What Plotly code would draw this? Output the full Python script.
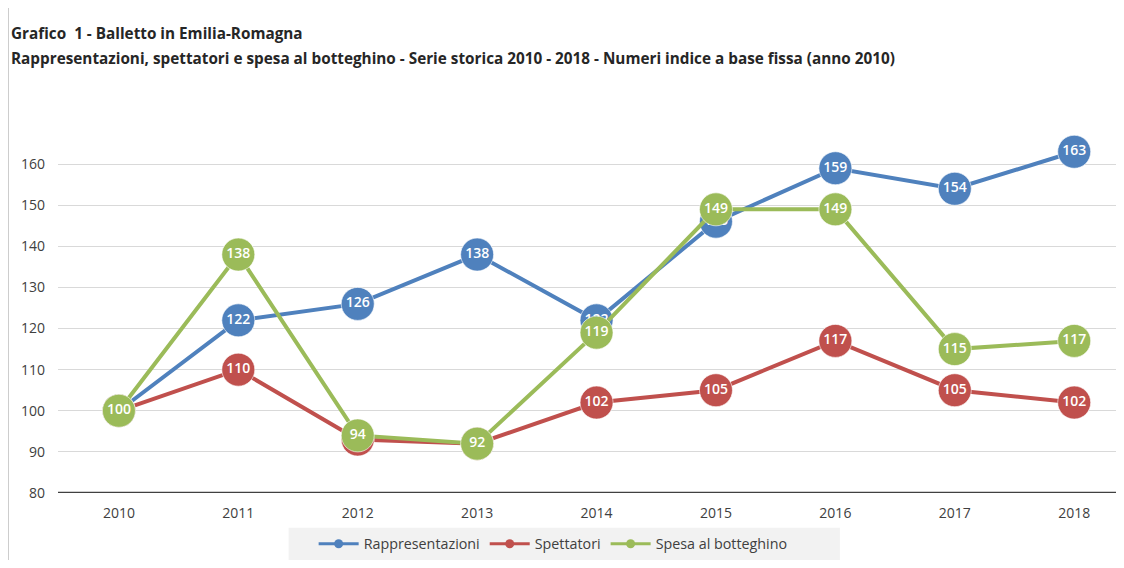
import plotly.graph_objects as go

years = ["2010", "2011", "2012", "2013", "2014", "2015", "2016", "2017", "2018"]
rappresentazioni = [100, 122, 126, 138, 122, 146, 159, 154, 163]
spettatori = [100, 110, 93, 92, 102, 105, 117, 105, 102]
spesa = [100, 138, 94, 92, 119, 149, 149, 115, 117]

series = [
    ("Rappresentazioni", rappresentazioni, "#4f81bd"),
    ("Spettatori", spettatori, "#c0504d"),
    ("Spesa al botteghino", spesa, "#9bbb59"),
]

fig = go.Figure()
for name, vals, col in series:
    fig.add_trace(go.Scatter(
        x=list(range(len(years))), y=vals, mode="lines+markers+text",
        text=[str(v) for v in vals], textposition="middle center",
        textfont=dict(color="white", size=14, family="Open Sans", weight=600),
        line=dict(color=col, width=4),
        marker=dict(size=33, color=col, line=dict(color="rgba(255,255,255,0.6)", width=1)),
        showlegend=False, cliponaxis=False,
    ))
for name, vals, col in series:
    fig.add_trace(go.Scatter(
        x=[None], y=[None], mode="lines+markers", name=name,
        line=dict(color=col, width=3), marker=dict(size=9, color=col),
    ))

fig.update_layout(
    width=1108, height=552,
    margin=dict(l=50, r=0, t=114.5, b=57.6),
    plot_bgcolor="white", paper_bgcolor="white",
    font=dict(family="Open Sans", color="#404040", size=14),
    xaxis=dict(range=[-0.51, 8.35], tickmode="array", tickvals=list(range(len(years))),
               ticktext=years, showgrid=False, zeroline=False, showline=False,
               ticks="", ticklabelstandoff=10, tickfont=dict(size=14, color="#404040")),
    yaxis=dict(range=[80, 170], tickvals=[80, 90, 100, 110, 120, 130, 140, 150, 160],
               showgrid=True, gridcolor="#d9d9d9", gridwidth=1, zeroline=False,
               showline=False, ticks="", ticklabelstandoff=12,
               tickfont=dict(size=14, color="#404040")),
    legend=dict(orientation="h", x=0.468, xanchor="center", y=-0.139, yanchor="middle",
                bgcolor="rgba(0,0,0,0)", font=dict(size=14.3, color="#404040"),
                itemwidth=40, tracegroupgap=0),
    shapes=[
        dict(type="rect", xref="paper", yref="paper", x0=0.218, x1=0.739, y0=-0.2, y1=-0.0937,
             fillcolor="#f2f2f2", line=dict(width=0), layer="below"),
        dict(type="line", xref="paper", yref="y", x0=0, x1=1, y0=80, y1=80,
             line=dict(color="#404040", width=2.5)),
        dict(type="line", xref="paper", yref="paper", x0=-0.047, x1=-0.047, y0=-0.2, y1=1.34,
             line=dict(color="#bfbfbf", width=1)),
    ],
    annotations=[
        dict(text="<b>Grafico  1 - Balletto in Emilia-Romagna</b>", xref="paper", yref="paper",
             x=-0.046, y=1.2424, xanchor="left", yanchor="middle", showarrow=False,
             font=dict(size=15.3, color="#262626", family="Open Sans")),
        dict(text="<b>Rappresentazioni, spettatori e spesa al botteghino - Serie storica 2010 - 2018 - Numeri indice a base fissa (anno 2010)</b>",
             xref="paper", yref="paper", x=-0.046, y=1.1756, xanchor="left", yanchor="middle",
             showarrow=False, font=dict(size=15.3, color="#262626", family="Open Sans")),
    ],
)

fig.write_html("out.html")
